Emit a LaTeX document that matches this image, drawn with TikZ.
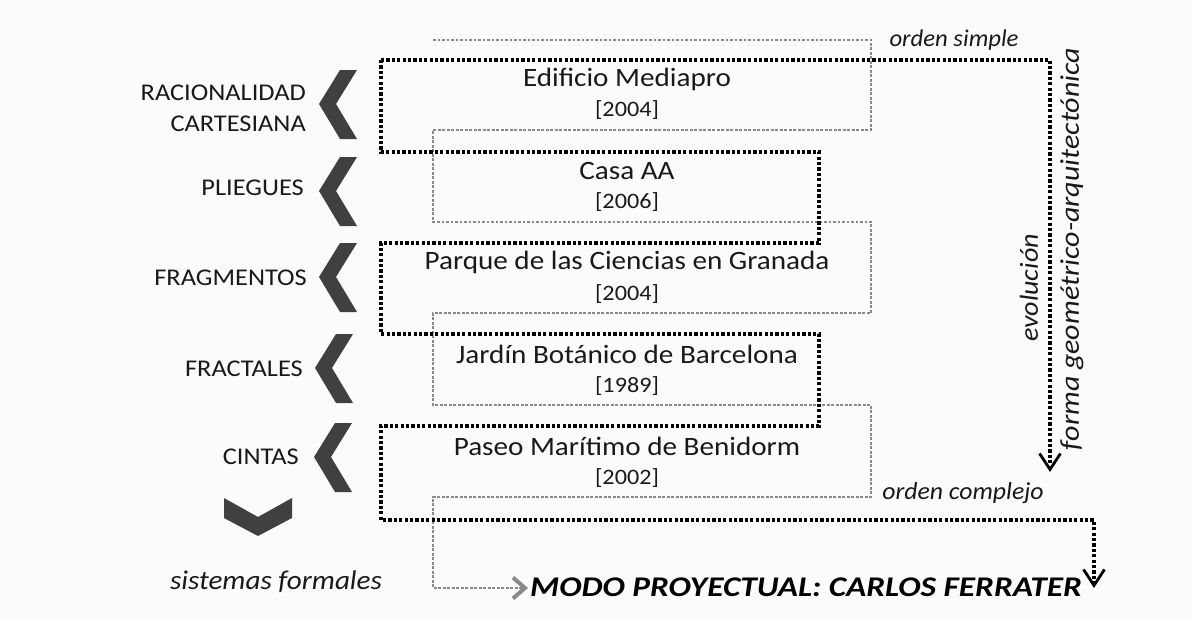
\documentclass[tikz,border=0pt]{standalone}
\usepackage{fontspec}
\usepackage{graphicx}
\setmainfont{Carlito}
\usetikzlibrary{arrows.meta}
\definecolor{bgc}{RGB}{251,251,253}
\definecolor{chevc}{RGB}{64,64,64}
\definecolor{greyd}{RGB}{138,138,138}
\definecolor{txt}{RGB}{25,25,25}
\newcommand{\hx}[2]{\scalebox{#1}[1]{#2}}
\tikzset{
  blackdot/.style={line width=3.2pt, dash pattern=on 3.2pt off 2.2pt, black},
  greydot/.style={line width=2.7pt, dash pattern=on 2.6pt off 1.9pt, greyd},
  blacktip/.style={-{Straight Barb[length=16pt,width=21pt,line width=2.8pt]}},
  greytip/.style={-{Straight Barb[length=12pt,width=21pt,line width=4pt,color=greyd]}},
  title/.style={font=\fontsize{26.5}{30}\selectfont, text=txt, inner sep=0pt},
  year/.style={font=\fontsize{22}{25}\selectfont, text=txt, inner sep=0pt},
  leftlab/.style={font=\fontsize{24}{31}\selectfont, text=txt, inner sep=0pt, anchor=east, align=right},
  itlab/.style={text=txt, inner sep=0pt},
  chev/.style={fill=chevc},
}
\begin{document}
\begin{tikzpicture}[x=1pt,y=-1pt]
\useasboundingbox (0,0) rectangle (1192,621);
\fill[bgc] (0,0) rectangle (1192,621);

% grey snake
\coordinate (g0) at (433,40);
\coordinate (gend) at (528,588);
\draw[greydot, greytip] (g0) -- (871,40) -- (871,130) -- (433,130) -- (433,222) -- (871,222) -- (871,313) -- (433,313) -- (433,405) -- (871,405) -- (871,497) -- (433,497) -- (433,588) -- (gend);

% black snake
\coordinate (b0) at (381,60);
\coordinate (btip1) at (1050,472);
\coordinate (btip2) at (1094,588);
\draw[blackdot, blacktip] (b0) -- (1050,60) -- (btip1);
\draw[blackdot, blacktip] (b0) -- (381,152) -- (819,152) -- (819,243) -- (381,243) -- (381,334) -- (819,334) -- (819,426) -- (381,426) -- (381,520) -- (1094,520) -- (btip2);

% titles
\node[title] (t1) at (627,79) {\hx{1.1}{Edificio Mediapro}};
\node[year]  (y1) at (627,110) {\hx{1.1}{[2004]}};
\node[title] (t2) at (627,171) {\hx{1.1}{Casa AA}};
\node[year]  (y2) at (627,202) {\hx{1.1}{[2006]}};
\node[title] (t3) at (627,262) {\hx{1.1}{Parque de las Ciencias en Granada}};
\node[year]  (y3) at (627,294) {\hx{1.1}{[2004]}};
\node[title] (t4) at (627,354) {\hx{1.1}{Jardín Botánico de Barcelona}};
\node[year]  (y4) at (627,386) {\hx{1.1}{[1989]}};
\node[title] (t5) at (627,446) {\hx{1.1}{Paseo Marítimo de Benidorm}};
\node[year]  (y5) at (627,478) {\hx{1.1}{[2002]}};

% left labels
\node[leftlab] (l1) at (306,108) {\hx{1.1}{RACIONALIDAD}\\\hx{1.1}{CARTESIANA}};
\node[leftlab] (l2) at (304,188) {\hx{1.1}{PLIEGUES}};
\node[leftlab] (l3) at (307,278) {\hx{1.1}{FRAGMENTOS}};
\node[leftlab] (l4) at (303,369) {\hx{1.1}{FRACTALES}};
\node[leftlab] (l5) at (299,457) {\hx{1.1}{CINTAS}};

% chevrons
\foreach \cx/\cy in {338/104, 338/191, 338/277, 334/368, 333/457}{
  \fill[chev] (\cx+19,\cy-34) -- (\cx+2,\cy-34) -- (\cx-19,\cy) -- (\cx+2,\cy+35) -- (\cx+19,\cy+35) -- (\cx-2,\cy) -- cycle;
}
\fill[chev] (224,498) -- (258,517) -- (292,498) -- (292,518) -- (258,536) -- (224,518) -- cycle;

% italic labels
\node[itlab, font=\fontsize{27}{30}\selectfont\itshape] (sf) at (276,582) {\hx{1.08}{sistemas formales}};
\node[itlab, font=\fontsize{24}{27}\selectfont\itshape] (os) at (954,40) {\hx{1.03}{orden simple}};
\node[itlab, font=\fontsize{24.5}{27}\selectfont\itshape] (oc) at (963,493) {\hx{1.05}{orden complejo}};
\node[itlab, font=\fontsize{26}{29}\selectfont\itshape, rotate=90] (ev) at (1029,288) {\hx{1.08}{evolución}};
\node[itlab, font=\fontsize{27}{30}\selectfont\itshape, rotate=90] (fg) at (1072,249) {\hx{1.11}{forma geométrico-arquitectónica}};

\node[font=\fontsize{28.5}{31}\selectfont\bfseries\itshape, inner sep=0pt] (modo) at (806,587) {\hx{1.17}{MODO PROYECTUAL: CARLOS FERRATER}};
\end{tikzpicture}
\end{document}
